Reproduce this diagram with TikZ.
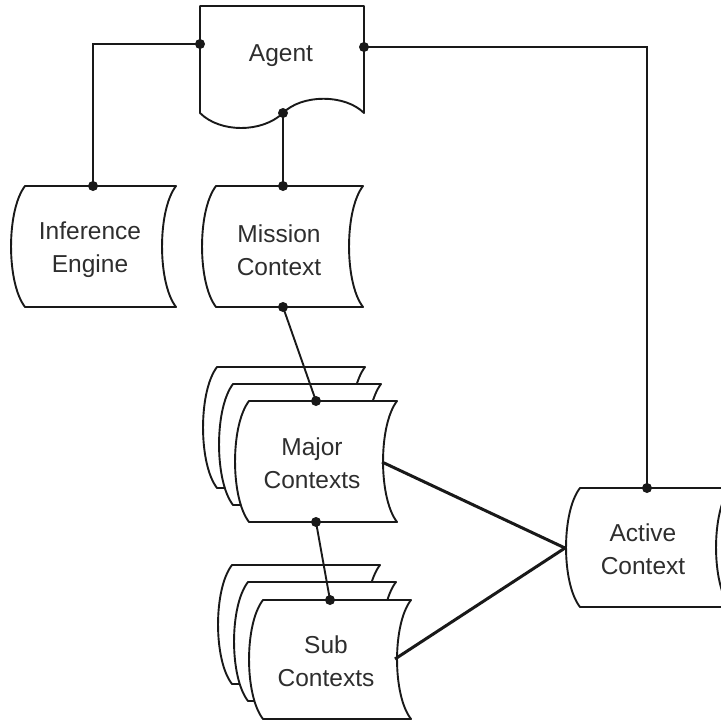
\documentclass[tikz,border=0pt]{standalone}
\usepackage{fontspec}
\setmainfont{Liberation Sans}
\begin{document}
\begin{tikzpicture}[x=1pt,y=-1pt,
  shp/.style={draw=black!90,line width=1.9pt,fill=white,line join=round},
  wire/.style={draw=black!90,line width=1.9pt},
  thickwire/.style={draw=black!90,line width=3pt},
  lbl/.style={font=\fontsize{24.5}{33}\selectfont,align=center,text=black!82,inner sep=0pt},
  dotc/.style={circle,fill=black!90,inner sep=0pt,minimum size=10pt}]
\useasboundingbox (0,0) rectangle (721,721);
% stored-data shape: top-left x, top y, width, height, bulge
\newcommand{\sdata}[5]{%
  \path[shp] (#1,#2) -- ({#1+#3},#2)
    .. controls ({#1+#3-1.33*#5},{#2+0.2*#4}) and ({#1+#3-1.33*#5},{#2+0.8*#4}) .. ({#1+#3},{#2+#4})
    -- (#1,{#2+#4})
    .. controls ({#1-1.33*#5},{#2+0.8*#4}) and ({#1-1.33*#5},{#2+0.2*#4}) .. (#1,#2) -- cycle;}
% Agent (document shape)
\path[shp] (200,6) -- (364,6) -- (364,113)
  .. controls (345,94) and (302,94) .. (283,113)
  .. controls (262,133) and (220,133) .. (200,113) -- cycle;
\node[lbl] (agent) at (281,56) {Agent};
% Inference Engine
\sdata{25}{186}{151}{121}{14}
\node[lbl] (inf) at (90,250) {Inference\\Engine};
% Mission Context
\sdata{216}{186}{147}{121}{14}
\node[lbl] (mis) at (279,250) {Mission\\Context};
% Major Contexts (stack)
\sdata{217}{367}{148}{121}{14}
\sdata{233}{384}{148}{121}{14}
\sdata{249}{401}{148}{121}{14}
\node[lbl] (maj) at (312,463) {Major\\Contexts};
% Sub Contexts (stack)
\sdata{232}{565}{148}{119}{14}
\sdata{248}{582}{148}{119}{14}
\sdata{263}{600}{148}{119}{14}
\node[lbl] (sub) at (326,661) {Sub\\Contexts};
% Active Context
\sdata{580}{488}{150}{119}{14}
\node[lbl] (act) at (643,549) {Active\\Context};
% connection points
\coordinate (agL) at (200,44);
\coordinate (agR) at (364,47);
\coordinate (agB) at (283,113);
\coordinate (infT) at (93,186);
\coordinate (misT) at (283,186);
\coordinate (misB) at (283,307);
\coordinate (majT) at (316,401);
\coordinate (majB) at (316,522);
\coordinate (majR) at (382,462);
\coordinate (subT) at (330,600);
\coordinate (subR) at (395,659);
\coordinate (actT) at (647,488);
\coordinate (actL) at (565,548);
% connectors
\draw[wire] (agL) -| (infT);
\draw[wire] (agR) -| (actT);
\draw[wire] (agB) -- (misT);
\draw[wire] (misB) -- (majT);
\draw[wire] (majB) -- (subT);
\draw[thickwire] (majR) -- (actL);
\draw[thickwire] (subR) -- (actL);
% dots
\foreach \p in {agL,agR,agB,infT,misT,misB,majT,majB,subT,actT}
  \node[dotc] at (\p) {};
\end{tikzpicture}
\end{document}
